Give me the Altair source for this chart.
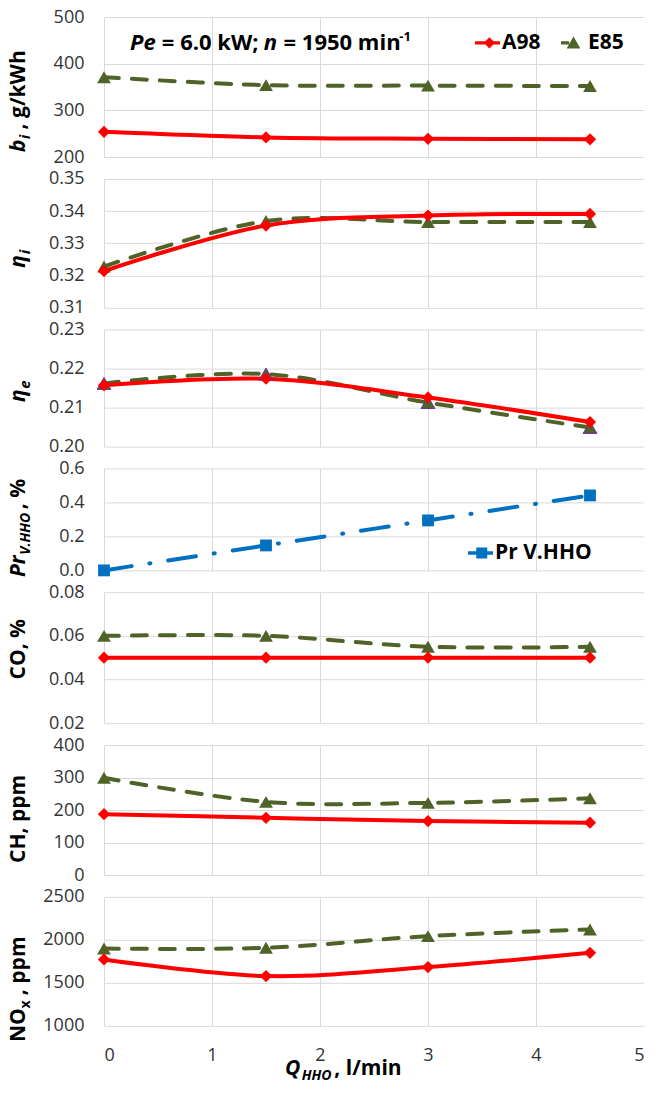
import altair as alt
import pandas as pd

# ---------------- data ----------------
Q_HHO = [0, 1.5, 3, 4.5]

bi_A98 = [254, 242, 239, 238]
bi_E85 = [371, 354, 353, 352]
etai_A98 = [0.3214, 0.3355, 0.3386, 0.3391]
etai_E85 = [0.3228, 0.3369, 0.3366, 0.3366]
etae_A98 = [0.2157, 0.2174, 0.2126, 0.2063]
etae_E85 = [0.2162, 0.2186, 0.2113, 0.2049]
pr_VHHO = [0.0, 0.147, 0.294, 0.441]
co_A98 = [0.050, 0.050, 0.050, 0.050]
co_E85 = [0.060, 0.060, 0.055, 0.055]
ch_A98 = [187, 176, 166, 161]
ch_E85 = [299, 225, 222, 236]
nox_A98 = [1771, 1578, 1683, 1849]
nox_E85 = [1899, 1907, 2043, 2120]

X_TICKS = [0, 1, 2, 3, 4, 5]

FONT = "Open Sans"
RED = "#FF0000"
GREEN = "#4F6228"
BLUE = "#0070C0"
GRID = "#D9D9D9"
W = 540

# approx. Open Sans Bold advance widths (units / 2048)
CW = {' ': 532, '=': 1171, '.': 573, ',': 492, ';': 573, '-': 659, '/': 768, '%': 1751,
      'A': 1432, 'C': 1296, 'E': 1122, 'H': 1567, 'N': 1640, 'O': 1632, 'P': 1266,
      'Q': 1632, 'V': 1337, 'W': 1997, 'b': 1264, 'e': 1167, 'g': 1120, 'h': 1300,
      'i': 606, 'k': 1243, 'l': 606, 'm': 1958, 'n': 1300, 'p': 1264, 'r': 905,
      'x': 1145, 'η': 1300}
for d in "0123456789":
    CW[d] = 1171


def tw(s, size):
    return sum(CW.get(c, 1150) for c in s) / 2048.0 * size


def text_run(segs, x, y, angle=None, center=True):
    """segs: list of (text, size, italic, dy) drawn one after another."""
    widths = [tw(t, s) for t, s, _, _ in segs]
    pos = -sum(widths) / 2.0 if center else 0.0
    out = []
    for (t, s, it, dy), w in zip(segs, widths):
        lead = len(t) - len(t.lstrip(" "))
        shown = t.strip(" ")
        if shown:
            kw = dict(align="left", baseline="alphabetic", font=FONT, fontSize=s,
                      fontWeight="bold", fontStyle="italic" if it else "normal",
                      color="black", dx=pos + tw(" " * lead, s), dy=dy)
            if angle is not None:
                kw["angle"] = angle
            out.append(alt.Chart(pd.DataFrame({"t": [shown]})).mark_text(**kw).encode(
                x=alt.value(x), y=alt.value(y), text="t:N"))
        pos += w
    return out


STYLE = {
    "A98": dict(color=RED, dash=None, shape="diamond", size=150),
    "E85": dict(color=GREEN, dash=[15, 13], shape="triangle-up", size=190),
    "Pr V.HHO": dict(color=BLUE, dash=[28, 18, 1, 18], shape="square", size=140),
}

PATH_A98 = "M-1,-0.13L1,-0.13L1,0.13L-1,0.13Z M0.15,-0.45L0.6,0L0.15,0.45L-0.3,0Z"
PATH_E85 = "M-1,-0.13L-0.35,-0.13L-0.35,0.13L-1,0.13Z M0,-0.5L0.55,0.45L-0.55,0.45Z"
PATH_PR = "M-1,-0.14L1,-0.14L1,0.14L-1,0.14Z M-0.34,-0.44L0.54,-0.44L0.54,0.44L-0.34,0.44Z"


def legend_layer(names, colors, paths, lx, ly):
    leg = alt.Legend(orient="none", legendX=lx, legendY=ly, direction="horizontal",
                     title=None, symbolSize=625, symbolStrokeWidth=0, symbolOpacity=1,
                     labelFont=FONT, labelFontSize=21, labelFontWeight="bold",
                     labelColor="black", labelOffset=2, columnPadding=20, padding=0)
    df = pd.DataFrame({"s": names})
    return alt.Chart(df).transform_filter("false").mark_point(filled=True, opacity=1).encode(
        color=alt.Color("s:N", scale=alt.Scale(domain=names, range=colors), legend=leg),
        shape=alt.Shape("s:N", scale=alt.Scale(domain=names, range=paths), legend=leg),
    )


def panel(series, domain, ticks, height, fmt, title_segs, title_y, extra=(),
          show_x=False, tri_stroke=None):
    rows = []
    for name, vals in series:
        for q, v in zip(Q_HHO, vals):
            rows.append({"Q": q, "v": v, "s": name})
    df = pd.DataFrame(rows)
    xenc = alt.X("Q:Q", scale=alt.Scale(domain=[0, 5], nice=False, zero=False),
                 axis=alt.Axis(values=X_TICKS, title=None, labels=show_x, ticks=False,
                               domain=False, grid=True, format="d", labelPadding=21))
    yenc = alt.Y("v:Q", scale=alt.Scale(domain=domain, nice=False, zero=False),
                 axis=alt.Axis(values=ticks, format=fmt, title=None, ticks=False,
                               domain=False, grid=True, labelPadding=20))
    base = alt.Chart(df).encode(x=xenc, y=yenc)
    layers = []
    for name, _ in series:
        st = STYLE[name]
        kw = dict(color=st["color"], strokeWidth=4, interpolate="cardinal", strokeCap="round")
        if st["dash"]:
            kw["strokeDash"] = st["dash"]
        layers.append(base.transform_filter(alt.datum.s == name).mark_line(**kw))
    for name, _ in series:
        st = STYLE[name]
        kw = dict(shape=st["shape"], size=st["size"], filled=True, color=st["color"], opacity=1)
        if tri_stroke and name == "E85":
            kw["stroke"] = tri_stroke
            kw["strokeWidth"] = 1
        layers.append(base.transform_filter(alt.datum.s == name).mark_point(**kw))
    titles = text_run(title_segs, -79, title_y, angle=270, center=True)
    return alt.layer(*layers, *extra, *titles).properties(width=W, height=height)


# --- panel 1 extras: annotation + legend
annot = text_run([("Pe", 22, True, 0), (" = 6.0 kW; ", 22, False, 0), ("n", 22, True, 0),
                  (" = 1950 min", 22, False, 0), ("-1", 13, False, -9)],
                 26, 33, center=False)
leg1 = legend_layer(["A98", "E85"], [RED, GREEN], [PATH_A98, PATH_E85], 371, 13)
leg4 = legend_layer(["Pr V.HHO"], [BLUE], [PATH_PR], 364, 72)
xtitle = text_run([("Q", 21, True, 0), ("HHO", 14, True, 5), (", l/min", 21, False, 0)],
                  181, 178, center=False)

p1 = panel([("E85", bi_E85), ("A98", bi_A98)], [200, 500], [200, 300, 400, 500], 140, "d",
           [("b", 21, True, 0), ("i", 14, True, 5), (" , g/kWh", 21, False, 0)], 85.5,
           extra=[*annot, leg1])
p2 = panel([("E85", etai_E85), ("A98", etai_A98)], [0.31, 0.35],
           [0.31, 0.32, 0.33, 0.34, 0.35], 129, ".2f",
           [("η", 21, True, 0), ("i", 15, True, 5)], 80)
p3 = panel([("E85", etae_E85), ("A98", etae_A98)], [0.20, 0.23],
           [0.20, 0.21, 0.22, 0.23], 117, ".2f",
           [("η", 21, True, 0), ("e", 15, True, 5)], 61.5, tri_stroke="#7030A0")
p4 = panel([("Pr V.HHO", pr_VHHO)], [0.0, 0.6], [0.0, 0.2, 0.4, 0.6], 102, ".1f",
           [("Pr", 21, True, 0), ("V.HHO", 14, True, 5), (", %", 21, False, 0)], 60.5,
           extra=[leg4])
p5 = panel([("E85", co_E85), ("A98", co_A98)], [0.02, 0.08], [0.02, 0.04, 0.06, 0.08], 131,
           ".2f", [("CO, %", 21, False, 0)], 58)
p6 = panel([("E85", ch_E85), ("A98", ch_A98)], [0, 400], [0, 100, 200, 300, 400], 130, "d",
           [("CH, ppm", 21, False, 0)], 75)
p7 = panel([("E85", nox_E85), ("A98", nox_A98)], [1000, 2500], [1000, 1500, 2000, 2500], 129,
           "d", [("NO", 21, False, 0), ("x", 14, False, 5), (" , ppm", 21, False, 0)], 93.5,
           extra=xtitle, show_x=True)

chart = alt.vconcat(p1, p2, p3, p4, p5, p6, p7, spacing=21.8, bounds="flush").resolve_scale(
    x="independent", y="independent", color="independent", shape="independent"
).resolve_legend(color="independent", shape="independent").properties(
    padding={"left": 0, "top": 0, "right": 0, "bottom": 0}, background="white"
).configure_view(stroke=None).configure_axis(
    labelFont=FONT, labelFontSize=18, labelColor="#333333", gridColor=GRID, gridWidth=1
)

chart.save("out.html", embed_options={"renderer": "svg", "actions": False})
